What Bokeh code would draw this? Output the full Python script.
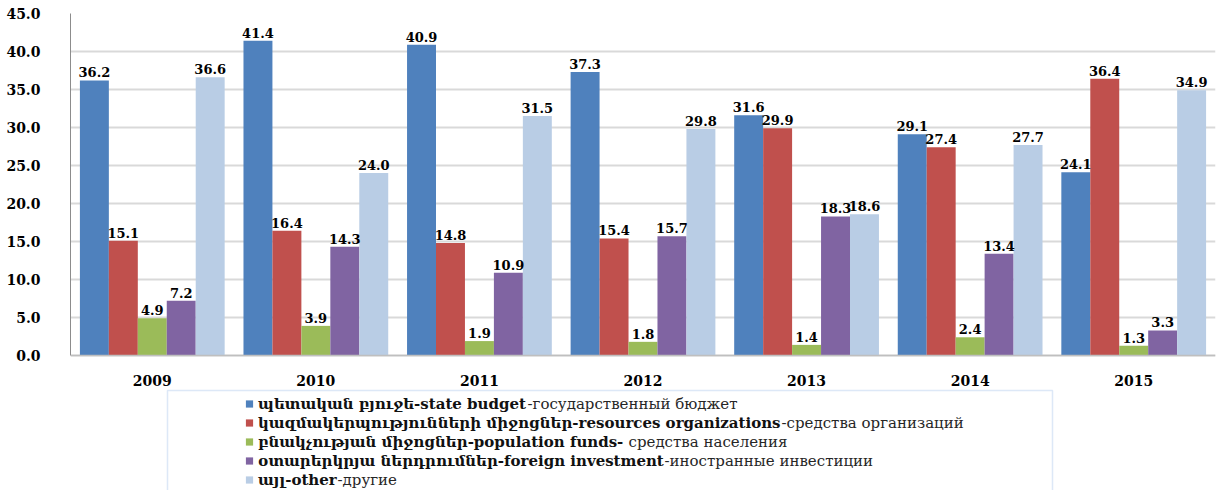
from bokeh.plotting import figure
from bokeh.models import (ColumnDataSource, FactorRange, Range1d, FixedTicker, NumeralTickFormatter,
                          LabelSet, Label, Legend, LegendItem, BoxAnnotation, Span)
from bokeh.transform import dodge
from bokeh.core.properties import value
from bokeh.embed import file_html
from bokeh.resources import INLINE

years = ["2009", "2010", "2011", "2012", "2013", "2014", "2015"]
state_budget = [36.2, 41.4, 40.9, 37.3, 31.6, 29.1, 24.1]
organizations = [15.1, 16.4, 14.8, 15.4, 29.9, 27.4, 36.4]
population = [4.9, 3.9, 1.9, 1.8, 1.4, 2.4, 1.3]
foreign = [7.2, 14.3, 10.9, 15.7, 18.3, 13.4, 3.3]
other = [36.6, 24.0, 31.5, 29.8, 18.6, 27.7, 34.9]
y_ticks = [0, 5, 10, 15, 20, 25, 30, 35, 40, 45]

series = [state_budget, organizations, population, foreign, other]
colors = ["#4F81BD", "#C0504D", "#9BBB59", "#8064A2", "#B9CDE5"]
legend_bold = [
    "պետական բյուջե-state budget",
    "կազմակերպությունների միջոցներ-resources organizations",
    "բնակչության միջոցներ-population funds-",
    "օտարերկրյա ներդրումներ-foreign investment",
    "այլ-other",
]
legend_ru = [
    "-государственный бюджет",
    "-средства организаций",
    "средства населения",
    "-иностранные инвестиции",
    "-другие",
]
ru_x = [457, 711, 558, 594, 267]
row_y = [87, 68, 49, 30, 11]

SERIF = "DejaVu Serif"

p = figure(x_range=FactorRange(*years), y_range=Range1d(-17.76, 45),
           width=1220, height=490, output_backend="svg", toolbar_location=None,
           min_border_left=70, min_border_right=5, min_border_top=13, min_border_bottom=0)
p.outline_line_color = None
p.xgrid.grid_line_color = None
p.ygrid.grid_line_color = "#d9d9d9"
p.ygrid.grid_line_width = 2
p.xaxis.visible = False

p.yaxis.ticker = FixedTicker(ticks=y_ticks)
p.yaxis.bounds = (0, 45)
p.yaxis.formatter = NumeralTickFormatter(format="0.0")
p.yaxis.major_tick_line_color = None
p.yaxis.minor_tick_line_color = None
p.yaxis.major_label_standoff = 24
p.yaxis.axis_line_color = "#8c8c8c"
p.yaxis.major_label_text_font = SERIF
p.yaxis.major_label_text_font_style = "bold"
p.yaxis.major_label_text_font_size = "14px"
p.yaxis.major_label_text_color = "#000000"

p.add_layout(Span(location=0, dimension="width", line_color="#bfbfbf", line_width=1.5))

w = 0.177
offsets = [-2 * w, -w, 0, w, 2 * w]
items = []
for vals, col, off, lab in zip(series, colors, offsets, legend_bold):
    src = ColumnDataSource(dict(x=years, y=vals, t=["%.1f" % v for v in vals]))
    p.vbar(x=dodge("x", off, range=p.x_range), top="y", width=w, source=src,
           fill_color=col, line_color=None)
    # zero-size markers carrying the legend swatch
    sw = p.scatter(x=dodge("x", off, range=p.x_range), y="y", source=src, marker="square",
                   size=0, fill_color=col, line_color=None)
    items.append(LegendItem(label=lab, renderers=[sw], index=0))
    p.add_layout(LabelSet(x=dodge("x", off, range=p.x_range), y="y", text="t", source=src,
                          text_align="center", text_baseline="bottom", y_offset=3,
                          text_font=value(SERIF), text_font_style="bold",
                          text_font_size="13px", text_color="#000000"))

# category labels under the zero line
ysrc = ColumnDataSource(dict(x=years, y=[0] * len(years), t=years))
p.add_layout(LabelSet(x="x", y="y", text="t", source=ysrc, text_align="center",
                      text_baseline="middle", y_offset=-25, text_font=value(SERIF),
                      text_font_style="bold", text_font_size="14px", text_color="#000000"))

# legend frame
p.add_layout(BoxAnnotation(left=97, right=982, top=100, bottom=-10,
                           left_units="screen", right_units="screen",
                           top_units="screen", bottom_units="screen",
                           fill_alpha=0, line_color="#8EB4E3", line_width=1.5))

legend = Legend(items=items, location=(170, 1), padding=0, spacing=0, margin=0,
                glyph_width=18, glyph_height=19, label_height=19, label_standoff=0,
                label_text_font=SERIF, label_text_font_style="bold", label_text_font_size="15px",
                label_text_color="#111111",
                border_line_alpha=0, background_fill_alpha=0)
p.add_layout(legend, "center")

for txt, x, y in zip(legend_ru, ru_x, row_y):
    p.add_layout(Label(x=x, y=y, x_units="screen", y_units="screen", text=txt,
                       text_baseline="middle", text_font=SERIF,
                       text_font_size="15px", text_color="#262626"))

open("out.html", "w").write(file_html(p, INLINE))
